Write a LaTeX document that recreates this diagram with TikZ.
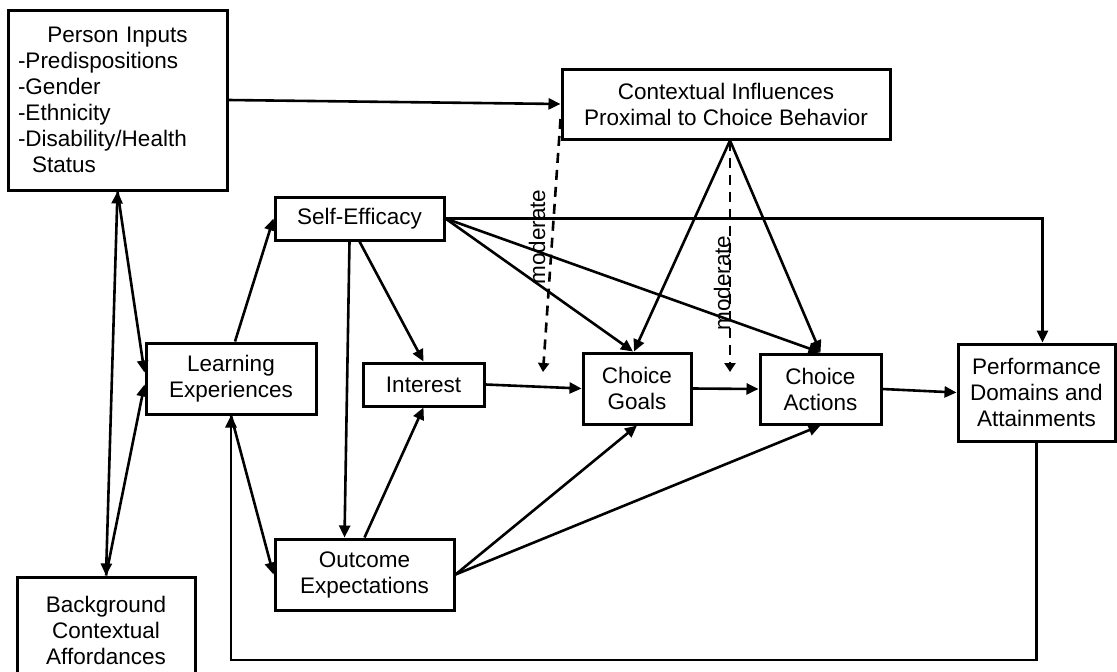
\documentclass[tikz,border=0pt]{standalone}
\usepackage{fontspec}
\setmainfont{Liberation Sans}
\usetikzlibrary{arrows.meta,calc}

\begin{document}
\begin{tikzpicture}[x=1pt,y=-1pt,
    box/.style={draw, line width=3pt, align=center, inner sep=0pt, font=\fontsize{22.5}{26}\selectfont},
    link/.style={line width=2.6pt, -{Triangle[length=12pt,width=11pt]}},
    twolink/.style={line width=2.6pt, {Triangle[length=12pt,width=11pt]}-{Triangle[length=12pt,width=11pt]}},
    modlink/.style={line width=2.6pt, dash pattern=on 10pt off 7pt, -{Triangle[length=9pt,width=11pt]}},
    modlabel/.style={rotate=90, inner sep=0pt, font=\fontsize{22.5}{26}\selectfont}]
    \useasboundingbox (0,0) rectangle (1117,672);

    % Person Inputs
    \node[box, minimum width=219pt, minimum height=180pt, text width=199pt, align=left] (person) at (117.5,100) {
        \makebox[199pt]{Person Inputs} \\
        -Predispositions \\
        -Gender \\
        -Ethnicity \\
        -Disability/Health \\
        \hspace*{14pt}Status
    };

    % Background Contextual Affordances
    \node[box, minimum width=178pt, minimum height=106pt] (bg) at (106,630) {
        Background \\ Contextual \\ Affordances
    };

    % Contextual Influences
    \node[box, minimum width=328pt, minimum height=70pt] (ctx) at (726,104) {
        Contextual Influences \\ Proximal to Choice Behavior
    };

    % Learning Experiences
    \node[box, minimum width=170pt, minimum height=71pt] (learn) at (231,378.5) {
        Learning \\ Experiences
    };

    % Self-Efficacy
    \node[box, minimum width=169pt, minimum height=43pt] (selfeff) at (359.5,218.5) {Self-Efficacy};

    % Interest
    \node[box, minimum width=121pt, minimum height=43pt] (interest) at (423.5,384.5) {Interest};

    % Outcome Expectations
    \node[box, minimum width=179pt, minimum height=71pt] (outcome) at (364.5,574.5) {
        Outcome \\ Expectations
    };

    % Choice Goals
    \node[box, minimum width=108pt, minimum height=71pt] (goals) at (637,388.5) {
        Choice \\ Goals
    };

    % Choice Actions
    \node[box, minimum width=121pt, minimum height=70pt] (actions) at (820.5,389) {
        Choice \\ Actions
    };

    % Performance Domains and Attainments
    \node[box, minimum width=157pt, minimum height=97pt] (perf) at (1036.5,392.5) {
        Performance \\ Domains and \\ Attainments
    };

    % moderate labels
    \node[modlabel] (modA) at (537,237) {moderate};
    \node[modlabel] (modB) at (722,283) {moderate};
    \coordinate (modendA) at (543,372);
    \coordinate (modendB) at (730,372);
    \coordinate (fb) at (0,660);

    % person and background
    \draw[link] (person.east) -- (ctx.west);
    \draw[twolink] (person.south) -- (bg.north);
    \draw[link] (person.south) -- ($(learn.west)+(0,-6)$);
    \draw[link] (bg.north) -- ($(learn.west)+(0,6)$);

    % learning
    \draw[link] ([xshift=4pt]learn.north) -- (selfeff.west);
    \draw[link] (learn.south) -- (outcome.west);
    \draw[link] (perf.south) -- (perf.south |- fb) -| (learn.south);

    % self-efficacy
    \draw[link] ([xshift=-10pt]selfeff.south) -- ([xshift=-20pt]outcome.north);
    \draw[link] (selfeff.south) -- (interest.north);
    \draw[link] (selfeff.east) -- ([xshift=-4pt]goals.north);
    \draw[link] (selfeff.east) -- (actions.north);
    \draw[link] (selfeff.east) -| ([xshift=6pt]perf.north);

    % outcome and interest
    \draw[link] (outcome.north) -- (interest.south);
    \draw[link] (interest.east) -- (goals.west);
    \draw[link] (outcome.east) -- (goals.south);
    \draw[link] (outcome.east) -- (actions.south);

    % context
    \draw[link] ([xshift=4pt]ctx.south) -- ([xshift=-3pt]goals.north);
    \draw[link] ([xshift=4pt]ctx.south) -- (actions.north);
    \draw[modlink] ($(ctx.west)+(0,15)$) -- (modendA);
    \draw[modlink] ([xshift=4pt]ctx.south) -- (modendB);

    % choices
    \draw[link] (goals.east) -- (actions.west);
    \draw[link] (actions.east) -- (perf.west);
\end{tikzpicture}
\end{document}
